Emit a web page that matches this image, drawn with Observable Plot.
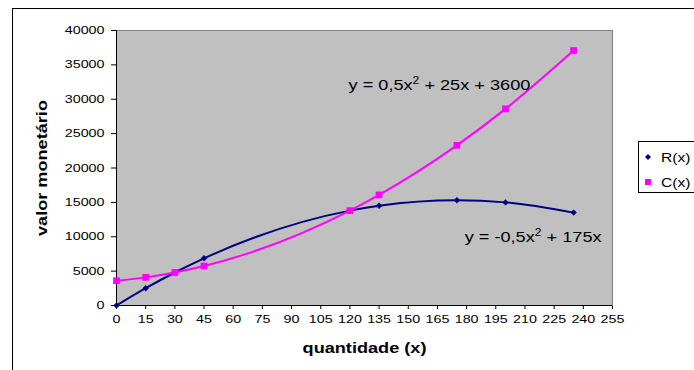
<!DOCTYPE html>
<html>
<head>
<meta charset="utf-8">
<script src="https://cdn.jsdelivr.net/npm/d3@7"></script>
<script src="https://cdn.jsdelivr.net/npm/@observablehq/plot@0.6"></script>
<style>
  body { margin: 0; background: #fff; overflow: hidden; }
  #wrap { position: relative; width: 694px; height: 370px; overflow: hidden; background: #fff; }
  #chart { position: absolute; left: 0; top: 0; }
  #border { position: absolute; left: 12px; top: 8px; width: 800px; height: 500px; border: 1px solid #000; pointer-events: none; }
  #legend { position: absolute; left: 638px; top: 141px; }
</style>
</head>
<body>
<div id="wrap"><div id="chart"></div><div id="border"></div><div id="legend"></div></div>
<script>
// ---- data ----
const quantities = [0, 15, 30, 45, 120, 135, 175, 200, 235];
const revenue    = [0, 2510, 4800, 6860, 13800, 14510, 15310, 15000, 13510];
const cost       = [3600, 4090, 4800, 5740, 13800, 16090, 23290, 28600, 37090];
const xTicks = [0, 15, 30, 45, 60, 75, 90, 105, 120, 135, 150, 165, 180, 195, 210, 225, 240, 255];
const yTicks = [0, 5000, 10000, 15000, 20000, 25000, 30000, 35000, 40000];
const seriesNames = ["R(x)", "C(x)"];
const seriesColors = ["#000080", "#ff00ff"];
const seriesSymbols = ["diamond2", "square"];
const equations = [["y = 0,5x", "2", " + 25x + 3600"], ["y = -0,5x", "2", " + 175x"]];
const xTitle = "quantidade (x)";
const yTitle = "valor monetário";

const rows = quantities.map((q, i) => ({q, r: revenue[i], c: cost[i]}));
const FONT = "'Liberation Sans', Arial, sans-serif";

const plot = Plot.plot({
  width: 694,
  height: 370,
  marginLeft: 116,
  marginRight: 82,
  marginTop: 30,
  marginBottom: 65,
  style: {fontFamily: FONT, fontSize: "11px", background: "transparent", color: "#000"},
  x: {domain: [0, 255], ticks: xTicks, tickSize: 4, tickPadding: 6, tickFormat: d => String(d), label: null},
  y: {domain: [0, 40000], ticks: yTicks, tickSize: 5, tickPadding: 7, tickFormat: d => String(d), label: null},
  marks: [
    Plot.frame({fill: "#c0c0c0", stroke: "#808080"}),
    Plot.ruleX([0], {stroke: "#000"}),
    Plot.ruleY([0], {stroke: "#000"}),
    Plot.line(rows, {x: "q", y: "r", curve: "monotone-x", stroke: seriesColors[0], strokeWidth: 2}),
    Plot.line(rows, {x: "q", y: "c", curve: "monotone-x", stroke: seriesColors[1], strokeWidth: 2}),
    Plot.dot(rows, {x: "q", y: "r", symbol: seriesSymbols[0], r: 2.9, fill: seriesColors[0], stroke: "none"}),
    Plot.dot(rows, {x: "q", y: "c", symbol: seriesSymbols[1], r: 3.8, fill: seriesColors[1], stroke: "none"}),
    Plot.text([equations[0].join("")], {x: 119.3, y: 32000, text: d => d, textAnchor: "start", fontSize: 15, fill: "#000", className: "eq"}),
    Plot.text([equations[1].join("")], {x: 179, y: 10000, text: d => d, textAnchor: "start", fontSize: 15, fill: "#000", className: "eq"}),
    Plot.text([xTitle], {frameAnchor: "bottom", dy: 43, textAnchor: "middle", lineAnchor: "middle", text: d => d, fontSize: 14.5, fontWeight: "bold", fill: "#000", className: "ttl"}),
    Plot.text([yTitle], {frameAnchor: "left", dx: -74, rotate: -90, textAnchor: "middle", lineAnchor: "middle", text: d => d, fontSize: 14.5, fontWeight: "bold", fill: "#000", className: "ttl"})
  ]
});
document.getElementById("chart").appendChild(plot);

// superscript "2" in the equations
plot.querySelectorAll(".eq text").forEach((t, i) => {
  const parts = equations[i];
  t.textContent = "";
  t.appendChild(document.createTextNode(parts[0]));
  const sup = document.createElementNS("http://www.w3.org/2000/svg", "tspan");
  sup.setAttribute("font-size", "10");
  sup.setAttribute("dy", "-6");
  sup.textContent = parts[1];
  t.appendChild(sup);
  const rest = document.createElementNS("http://www.w3.org/2000/svg", "tspan");
  rest.setAttribute("dy", "6");
  rest.textContent = parts[2];
  t.appendChild(rest);
});

// legend
const lg = d3.select("#legend").append("svg")
  .attr("width", 70).attr("height", 56)
  .style("font-family", FONT).style("font-size", "13px").style("overflow", "visible");
lg.append("rect").attr("x", 0.5).attr("y", 0.5).attr("width", 80).attr("height", 51)
  .attr("fill", "#fff").attr("stroke", "#000");
const symMap = {diamond2: d3.symbolDiamond2, square: d3.symbolSquare};
const symSize = {diamond2: 23, square: 36};
seriesNames.forEach((name, i) => {
  const cy = 16 + i * 25;
  lg.append("path")
    .attr("d", d3.symbol(symMap[seriesSymbols[i]], symSize[seriesSymbols[i]])())
    .attr("transform", `translate(10,${cy})`)
    .attr("fill", seriesColors[i]);
  lg.append("text").attr("x", 23).attr("y", cy).attr("dy", "0.35em").text(name);
});

// Excel-style horizontally stretched lettering, keeping each text's anchor in place
function stretch(root, k) {
  root.querySelectorAll("text").forEach(t => {
    const len = t.getComputedTextLength();
    if (!(len > 0)) return;
    const anchor = getComputedStyle(t).textAnchor;
    const b0 = t.getBBox();
    t.setAttribute("textLength", (len * k).toFixed(2));
    t.setAttribute("lengthAdjust", "spacingAndGlyphs");
    const b1 = t.getBBox();
    let shift = 0;
    if (anchor === "middle") shift = (b0.x + b0.width / 2) - (b1.x + b1.width / 2);
    else if (anchor === "end") shift = (b0.x + b0.width) - (b1.x + b1.width);
    else shift = b0.x - b1.x;
    if (Math.abs(shift) > 0.01) {
      const tr = t.getAttribute("transform") || "";
      t.setAttribute("transform", (tr + ` translate(${shift.toFixed(2)},0)`).trim());
    }
  });
}
plot.querySelectorAll("g[aria-label$='tick label']").forEach(g => stretch(g, 1.3));
plot.querySelectorAll(".eq").forEach(g => stretch(g, 1.21));
plot.querySelectorAll(".ttl").forEach(g => stretch(g, 1.25));
stretch(document.querySelector("#legend svg"), 1.2);
</script>
</body>
</html>
